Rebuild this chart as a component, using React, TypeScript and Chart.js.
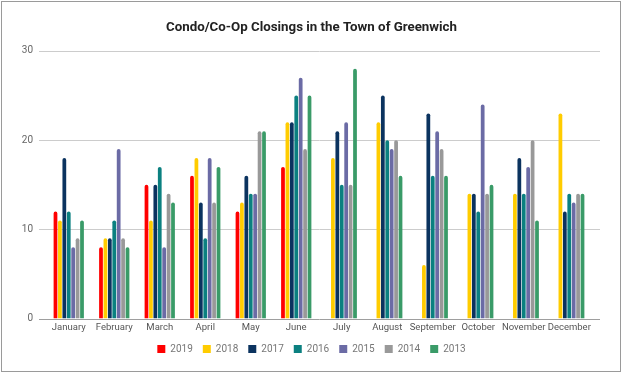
import React, { useEffect, useRef } from "react";
import { Chart, registerables } from "chart.js";

Chart.register(...registerables);

const months = ["January", "February", "March", "April", "May", "June", "July", "August", "September", "October", "November", "December"];
const yearLabels = ["2019", "2018", "2017", "2016", "2015", "2014", "2013"];
const colors = ["#ff0000", "#ffcc00", "#0b335f", "#0b8080", "#6b6ba5", "#999999", "#3a9b68"];
const v2019 = [12, 8, 15, 16, 12, 17, null, null, null, null, null, null];
const v2018 = [11, 9, 11, 18, 13, 22, 18, 22, 6, 14, 14, 23];
const v2017 = [18, 9, 15, 13, 16, 22, 21, 25, 23, 14, 18, 12];
const v2016 = [12, 11, 17, 9, 14, 25, 15, 20, 16, 12, 14, 14];
const v2015 = [8, 19, 8, 18, 14, 27, 22, 19, 21, 24, 17, 13];
const v2014 = [9, 9, 14, 13, 21, 19, 15, 20, 19, 14, 20, 14];
const v2013 = [11, 8, 13, 17, 21, 25, 28, 16, 16, 15, 11, 14];
const seriesValues = [v2019, v2018, v2017, v2016, v2015, v2014, v2013];
const yTicks = [0, 10, 20, 30];

const framePlugin = {
  id: "frame",
  beforeDatasetsDraw(chart: any) {
    const { ctx } = chart;
    const y = chart.scales.y;
    ctx.save();
    yTicks.forEach((t) => {
      const py = Math.round(y.getPixelForValue(t)) + 0.5;
      ctx.strokeStyle = t === 0 ? "#9e9e9e" : "#cccccc";
      ctx.lineWidth = 1;
      ctx.beginPath();
      ctx.moveTo(39, py);
      ctx.lineTo(600, py);
      ctx.stroke();
    });
    ctx.restore();
  },
  afterDraw(chart: any) {
    const { ctx } = chart;
    ctx.save();
    ctx.strokeStyle = "#9a9a9a";
    ctx.lineWidth = 1;
    ctx.strokeRect(1.5, 1.5, 619, 370);
    ctx.restore();
  },
};

export default function App() {
  const ref = useRef<HTMLCanvasElement | null>(null);
  useEffect(() => {
    document.body.style.margin = "0";
    const canvas = ref.current;
    if (!canvas) return;
    const chart = new Chart(canvas, {
      type: "bar",
      data: {
        labels: months,
        datasets: yearLabels.map((lab, i) => ({
          label: lab,
          data: seriesValues[i],
          backgroundColor: colors[i],
          borderColor: colors[i],
          borderWidth: 0,
          borderRadius: { topLeft: 2, topRight: 2, bottomLeft: 0, bottomRight: 0 },
          borderSkipped: "bottom",
          barPercentage: 0.85,
          categoryPercentage: 0.68,
        })),
      },
      options: {
        responsive: false,
        animation: false,
        layout: { padding: { top: 13, bottom: 10, left: 0, right: 0 } },
        plugins: {
          title: {
            display: true,
            text: "Condo/Co-Op Closings in the Town of Greenwich",
            color: "#222222",
            font: { family: "Roboto", size: 13.3, weight: "bold" },
            padding: { top: 7, bottom: 15 },
          },
          legend: {
            position: "bottom",
            labels: {
              boxWidth: 8,
              boxHeight: 8,
              padding: 10,
              color: "#777777",
              font: { family: "Roboto", size: 10 },
            },
          },
          tooltip: { enabled: false },
        },
        scales: {
          x: {
            grid: { display: false, drawTicks: false },
            border: { display: false },
            afterFit: (s: any) => { s.height = s.height - 2; },
            ticks: { color: "#555555", font: { family: "Roboto", size: 9.5 }, padding: 3, maxRotation: 0, autoSkip: false },
          },
          y: {
            min: 0,
            max: 30,
            grid: { display: false, drawTicks: false },
            border: { display: false },
            afterFit: (s: any) => { s.width = 46; },
            ticks: { stepSize: 10, color: "#666666", font: { family: "Roboto", size: 10 }, padding: 13 },
          },
          yr: {
            position: "right",
            display: true,
            grid: { display: false, drawTicks: false },
            border: { display: false },
            ticks: { display: false },
            afterFit: (s: any) => { s.width = 31; },
          },
        },
      },
      plugins: [framePlugin],
    });
    return () => chart.destroy();
  }, []);
  return (
    <div style={{ width: 623, height: 374 }}>
      <canvas ref={ref} width={623} height={374} style={{ display: "block" }} />
    </div>
  );
}
